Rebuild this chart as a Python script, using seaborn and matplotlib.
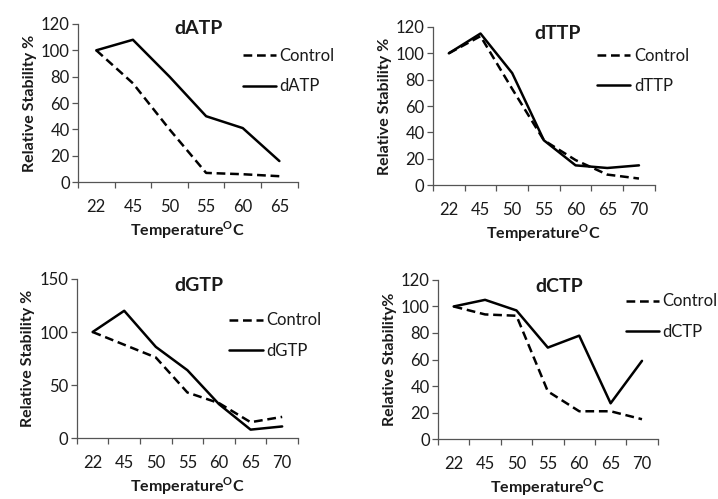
import numpy as np
import pandas as pd
import seaborn as sns
import matplotlib
matplotlib.use("Agg")
import matplotlib.pyplot as plt

sns.set_theme(style="white")
plt.rcParams['font.family'] = ['Lato', 'DejaVu Sans']

# ---- data ----
temps_atp = ["22", "45", "50", "55", "60", "65"]
ctrl_atp = [100, 75, 40, 7, 6, 4.5]
datp = [100, 108, 80, 50, 41, 16]

temps_ttp = ["22", "45", "50", "55", "60", "65", "70"]
ctrl_ttp = [100, 113, 73, 34, 19, 8, 5]
dttp = [100, 115, 85, 34, 15, 13, 15]

temps_gtp = ["22", "45", "50", "55", "60", "65", "70"]
ctrl_gtp = [100, 88, 76, 43, 33, 15, 20]
dgtp = [100, 120, 86, 64, 32, 8, 11]

temps_ctp = ["22", "45", "50", "55", "60", "65", "70"]
ctrl_ctp = [100, 94, 93, 36, 21, 21, 15]
dctp = [100, 105, 97, 69, 78, 27, 59]

ylims = [(0, 120, 20), (0, 120, 20), (0, 150, 50), (0, 120, 20)]
ylabels = ["Relative Stability %", "Relative Stability %",
           "Relative Stability %", "Relative Stability%"]

panels = [
    ("dATP", temps_atp, ctrl_atp, datp),
    ("dTTP", temps_ttp, ctrl_ttp, dttp),
    ("dGTP", temps_gtp, ctrl_gtp, dgtp),
    ("dCTP", temps_ctp, ctrl_ctp, dctp),
]

# axes rectangles (fig fraction)
rects = [
    (0.1086, 0.635, 0.306, 0.317),
    (0.603, 0.629, 0.309, 0.317),
    (0.107, 0.122, 0.308, 0.319),
    (0.610, 0.120, 0.306, 0.319),
]
title_pos = [(0.55, 0.97), (0.56, 0.96), (0.55, 0.96), (0.55, 0.96)]
legend_pos = [(0.75, 0.70), (0.74, 0.72), (0.69, 0.645), (0.855, 0.77)]

textc = "#1a1a1a"
fig = plt.figure(figsize=(7.18, 4.99), dpi=100)

for i, (name, temps, ctrl, treat) in enumerate(panels):
    ax = fig.add_axes(rects[i])
    pos = np.arange(len(temps))
    df = pd.DataFrame({
        "pos": np.concatenate([pos, pos]),
        "value": list(ctrl) + list(treat),
        "series": ["Control"] * len(temps) + [name] * len(temps),
    })
    sns.lineplot(data=df, x="pos", y="value", style="series",
                 style_order=["Control", name],
                 dashes={"Control": (3.5, 1.9), name: ""},
                 color="black", linewidth=1.8, legend=False, ax=ax,
                 sort=False)
    lo, hi, step = ylims[i]
    ax.set_ylim(lo, hi)
    ax.set_yticks(np.arange(lo, hi + 1, step))
    ax.set_xlim(-0.5, len(temps) - 0.5)
    ax.set_xticks(pos)
    ax.set_xticklabels(temps)
    ax.set_xticks(np.arange(-0.5, len(temps), 1.0), minor=True)
    ax.tick_params(axis="x", which="major", length=0, pad=12,
                   labelsize=12, colors=textc)
    ax.tick_params(axis="x", which="minor", length=4, width=0.9,
                   color="#555555", direction="out", bottom=True)
    ax.tick_params(axis="y", which="major", length=4, width=0.9,
                   color="#555555", direction="out", left=True,
                   labelsize=12, labelcolor=textc, pad=2)
    for s in ["top", "right"]:
        ax.spines[s].set_visible(False)
    for s in ["left", "bottom"]:
        ax.spines[s].set_color("#555555")
        ax.spines[s].set_linewidth(0.9)
    ax.set_xlabel("Temperature$^{\\mathregular{O}}$C", fontsize=11.5,
                  fontweight="bold", color=textc, labelpad=3)
    ax.set_ylabel(ylabels[i], fontsize=11.5, fontweight="bold",
                  color=textc, labelpad=3)
    ax.text(title_pos[i][0], title_pos[i][1], name, transform=ax.transAxes,
            ha="center", va="center", fontsize=14, fontweight="bold",
            color=textc)
    ax.legend(handles=ax.lines[:2], labels=["Control", name],
              loc="center left", bbox_to_anchor=legend_pos[i],
              frameon=False, fontsize=12, handlelength=2.0,
              handletextpad=0.2, borderpad=0, borderaxespad=0,
              labelspacing=0.85, labelcolor=textc)
    ax.grid(False)

fig.savefig("out.png", dpi=100)
